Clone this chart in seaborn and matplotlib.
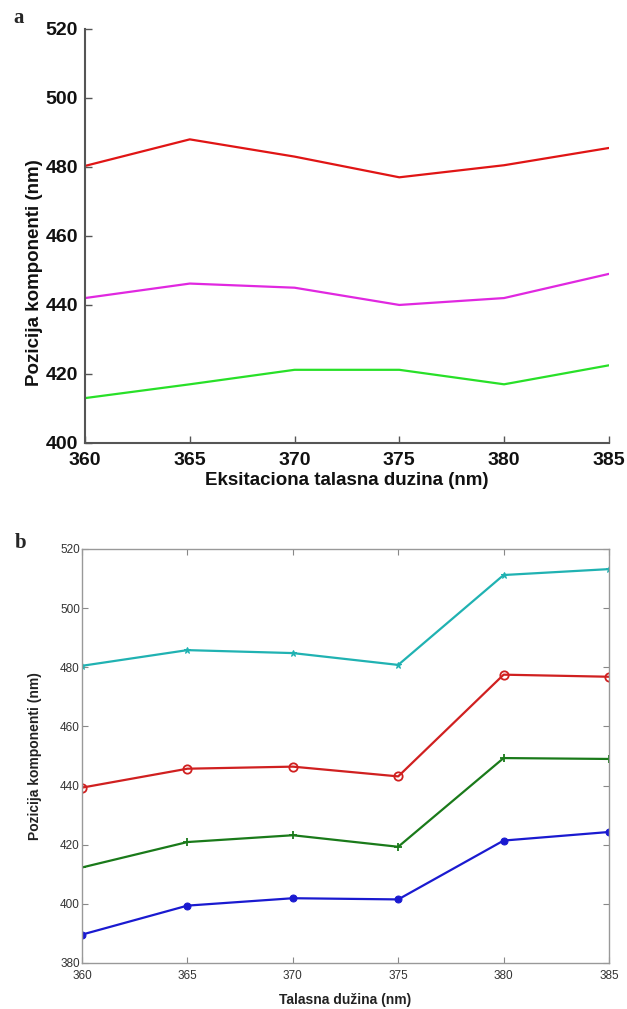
import matplotlib
matplotlib.use("Agg")
import matplotlib.pyplot as plt
import seaborn as sns
import pandas as pd

sns.set_theme(style="white")
plt.rcParams['font.family'] = ['Liberation Sans', 'DejaVu Sans']

# Panel a data
wl = [360, 365, 370, 375, 380, 385]
a_red = [480.3, 488.0, 483.0, 477.0, 480.5, 485.5]
a_magenta = [442.0, 446.2, 445.0, 440.0, 442.0, 449.0]
a_green = [413.0, 417.0, 421.2, 421.2, 417.0, 422.5]

# Panel b data
b_cyan = [480.5, 485.8, 484.8, 480.8, 511.2, 513.2]
b_red = [439.3, 445.7, 446.4, 443.1, 477.5, 476.8]
b_green = [412.3, 420.9, 423.2, 419.3, 449.3, 449.0]
b_blue = [389.6, 399.4, 401.9, 401.5, 421.4, 424.3]

xticks = [360, 365, 370, 375, 380, 385]
a_yticks = [400, 420, 440, 460, 480, 500, 520]
b_yticks = [380, 400, 420, 440, 460, 480, 500, 520]

fig = plt.figure(figsize=(6.27, 10.09), dpi=100)

# ---------- Panel a ----------
axa = fig.add_axes([0.1356, 0.561, 0.8354, 0.4103])
for vals, col in [(a_red, '#e01515'), (a_magenta, '#e028e0'), (a_green, '#28e028')]:
    df = pd.DataFrame({'x': wl, 'y': vals})
    sns.lineplot(data=df, x='x', y='y', ax=axa, color=col, linewidth=1.6)
axa.set_xlim(360, 385)
axa.set_ylim(400, 520)
axa.set_xticks(xticks)
axa.set_yticks(a_yticks)
for s in ['top', 'right']:
    axa.spines[s].set_visible(False)
for s in ['left', 'bottom']:
    axa.spines[s].set_color('#555555')
    axa.spines[s].set_linewidth(1.5)
axa.tick_params(direction='in', length=5, width=1.0, color='#555555',
                labelsize=14, left=True, bottom=True, labelcolor='#111111')
axa.tick_params(axis='x', pad=6.5)
axa.tick_params(axis='y', pad=5)
for lab in axa.get_xticklabels() + axa.get_yticklabels():
    lab.set_fontweight('bold')
axa.set_xlabel('Eksitaciona talasna duzina (nm)', fontsize=13.5, fontweight='bold',
               labelpad=2, color='#111111')
axa.set_ylabel('Pozicija komponenti (nm)', fontsize=13.5, fontweight='bold', color='#111111')
axa.yaxis.set_label_coords(-0.080, 0.412)
fig.text(0.021, 0.982, 'a', fontsize=15, fontweight='bold', family='Liberation Serif', va='center')

# ---------- Panel b ----------
axb = fig.add_axes([0.1308, 0.0456, 0.8405, 0.4103])
series_b = [
    (b_cyan, '#20b2b2', '*', dict(markersize=5)),
    (b_red, '#d02020', 'o', dict(markersize=6, markerfacecolor='none', markeredgewidth=1.3)),
    (b_green, '#1a7a1a', '+', dict(markersize=6, markeredgewidth=1.3)),
    (b_blue, '#1a1ad0', 'o', dict(markersize=5)),
]
for vals, col, mk, kw in series_b:
    df = pd.DataFrame({'x': wl, 'y': vals})
    sns.lineplot(data=df, x='x', y='y', ax=axb, color=col, linewidth=1.6,
                 marker=mk, markeredgecolor=col, **kw)
axb.set_xlim(360, 385)
axb.set_ylim(380, 520)
axb.set_xticks(xticks)
axb.set_yticks(b_yticks)
for s in axb.spines.values():
    s.set_color('#999999')
    s.set_linewidth(1.0)
axb.tick_params(direction='in', length=4, width=0.8, color='#888888',
                labelsize=8.5, top=True, right=True, left=True, bottom=True,
                labelcolor='#333333')
axb.tick_params(axis='x', pad=5)
axb.tick_params(axis='y', pad=1.5)
axb.set_xlabel('Talasna dužina (nm)', fontsize=10, fontweight='bold', labelpad=8, color='#222222')
axb.set_ylabel('Pozicija komponenti (nm)', fontsize=10, fontweight='bold', color='#222222')
axb.yaxis.set_label_coords(-0.076, 0.5)
fig.text(0.024, 0.4618, 'b', fontsize=15, fontweight='bold', family='Liberation Serif', va='center')

fig.savefig('out.png', dpi=100)
